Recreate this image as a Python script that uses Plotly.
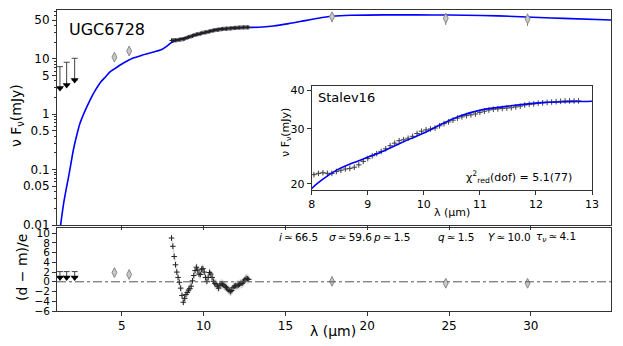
import plotly.graph_objects as go

# ---------------- data ----------------
# SED model (blue curve), wavelength in micron, nuFnu in mJy
model_lam = [1.22, 1.28, 1.45, 1.63, 1.8, 2.04, 2.25, 2.45, 2.75, 3.06, 3.35, 3.67,
             4.0, 4.28, 4.6, 4.9, 5.3, 5.69, 6.2, 6.73, 7.1, 7.5, 7.8, 8.0, 8.2,
             8.46, 8.75, 9.02, 9.26, 9.6, 10.0, 10.3, 10.62, 11.05, 11.55, 12.17,
             12.6, 13.0, 13.6, 14.26, 15.2, 15.91, 17.0, 17.87, 19.0, 21.0, 23.0,
             25.0, 27.0, 29.0, 30.5, 32.0, 34.9]
model_flux = [0.008, 0.011, 0.025, 0.049, 0.09, 0.226, 0.42, 0.69, 1.15, 1.8, 2.6, 3.66,
              4.7, 5.8, 6.7, 7.7, 9.0, 10.3, 11.5, 12.7, 13.6, 15.0, 17.2, 19.3, 20.7,
              22.2, 23.4, 24.4, 25.4, 27.1, 29.1, 31.0, 32.9, 34.6, 35.6, 36.5,
              36.7, 36.8, 37.5, 39.0, 43.0, 47.0, 54.0, 58.5, 61.0, 62.0, 62.0,
              61.5, 60.5, 58.0, 55.5, 53.5, 50.0]

# Stalev16 spectrum
spec_lam = [8.04, 8.12, 8.20, 8.28, 8.36, 8.44, 8.52, 8.60, 8.68, 8.76,
            8.84, 8.92, 9.00, 9.08, 9.16, 9.24, 9.32, 9.40, 9.48, 9.56,
            9.64, 9.72, 9.80, 9.88, 9.96, 10.04, 10.12, 10.20, 10.28, 10.36,
            10.44, 10.52, 10.60, 10.68, 10.76, 10.84, 10.92, 11.00, 11.08, 11.16,
            11.24, 11.32, 11.40, 11.48, 11.56, 11.64, 11.72, 11.80, 11.88, 11.96,
            12.04, 12.12, 12.20, 12.28, 12.36, 12.44, 12.52, 12.60, 12.68, 12.76]
spec_flux = [21.4, 21.6, 21.7, 21.6, 21.6, 21.9, 22.1, 22.3, 22.4, 22.6,
             23.0, 23.6, 24.1, 24.6, 25.0, 25.4, 25.9, 26.5, 27.0, 27.5,
             27.7, 28.0, 28.4, 29.0, 29.5, 29.8, 30.0, 30.2, 30.7, 31.2,
             31.6, 32.0, 32.5, 32.8, 33.1, 33.3, 33.5, 33.9, 34.2, 34.5,
             34.7, 34.8, 34.9, 35.0, 35.1, 35.3, 35.5, 35.8, 36.0, 36.1,
             36.3, 36.4, 36.5, 36.6, 36.7, 36.8, 36.9, 36.9, 36.9, 36.9]
spec_resid = [9.0, 7.3, 5.2, 3.5, 2.0, 0.9, -0.1, -1.3, -2.8, -4.2,
              -3.4, -2.6, -2.2, -1.7, -1.4, -0.9, 0.2, 1.3, 2.3, 3.0,
              2.4, 1.6, 1.5, 2.6, 2.7, 2.0, 0.9, 0.1, 0.9, 1.9,
              1.6, 0.9, 0.1, -0.3, -0.5, -0.9, -1.3, -0.7, -0.4, -0.5,
              -0.7, -1.0, -1.2, -1.5, -1.8, -2.0, -1.8, -1.2, -0.9, -0.8,
              -0.8, -0.7, -0.5, -0.3, -0.3, 0.0, 0.4, 0.7, 0.6, 0.5]

# photometry
phot_lam = [4.55, 5.45, 17.85, 24.8, 29.8]
phot_flux = [10.7, 13.8, 57.5, 53.8, 52.2]
phot_err = [1.6, 2.0, 12.0, 13.0, 13.0]
phot_resid = [1.9, 1.5, 0.1, -0.3, -0.3]

# upper limits
ulim_lam = [1.22, 1.63, 2.12]
ulim_flux = [2.97, 3.37, 4.14]
ulim_top = [7.2, 8.65, 10.2]
ulim_resid = [0.9, 0.9, 0.9]
ulim_resid_top = [2.1, 2.1, 2.1]

# best-fit parameters (thin spaces around the symbol)
param_labels = ["<i>i</i>\u2009≃\u200966.5", "<i>σ</i>\u2009≃\u200959.6",
                "<i>p</i>\u2009≃\u20091.5", "<i>q</i>\u2009≃\u20091.5",
                "<i>Y</i>\u2009≃\u200910.0", "<i>τ<sub>ν</sub></i>\u2009≃\u20094.1"]

FONT = "DejaVu Sans"
BLUE = "#0000ff"
FRAME = "#333333"
PHOT_FILL = "#c8c8c8"
PHOT_EDGE = "#8a8a8a"

W, H = 623, 346
OFF = 8  # the page body margin shifts the figure by 8 px
# plot area in screen pixels
L, R, T, B = 57, 611, 10, 311


def px(x):
    return (x - L) / (R - L)


def py(y):
    return (B - y) / (B - T)


fig = go.Figure()

# ---------------- main panel ----------------
fig.add_trace(go.Scatter(
    x=model_lam, y=model_flux, mode="lines", xaxis="x", yaxis="y",
    line=dict(color=BLUE, width=1.6, shape="spline", smoothing=0.6),
))
fig.add_trace(go.Scatter(
    x=spec_lam, y=spec_flux, mode="markers", xaxis="x", yaxis="y",
    marker=dict(symbol="cross-thin", size=3, line=dict(color="#222", width=1)),
    error_y=dict(type="constant", value=0.4, color="rgba(120,120,120,0.5)",
                 thickness=2, width=0),
))
fig.add_trace(go.Scatter(
    x=phot_lam, y=phot_flux, mode="markers", xaxis="x", yaxis="y",
    marker=dict(symbol="diamond-tall", size=7, color=PHOT_FILL,
                line=dict(color=PHOT_EDGE, width=1)),
    error_y=dict(type="data", array=phot_err, color="#777", thickness=1, width=0),
))
fig.add_trace(go.Scatter(
    x=ulim_lam, y=ulim_flux, mode="markers", xaxis="x", yaxis="y",
    marker=dict(symbol="triangle-down", size=7, color="black"),
    error_y=dict(type="data", symmetric=False,
                 array=[t - v for t, v in zip(ulim_top, ulim_flux)],
                 arrayminus=[0, 0, 0], color="#444", thickness=1, width=3),
))

# ---------------- residual panel ----------------
fig.add_trace(go.Scatter(
    x=spec_lam, y=[r + 1 for r in spec_resid], mode="lines", xaxis="x2", yaxis="y2",
    line=dict(width=0), hoverinfo="skip",
))
fig.add_trace(go.Scatter(
    x=spec_lam, y=[r - 1 for r in spec_resid], mode="lines", xaxis="x2", yaxis="y2",
    line=dict(width=0), fill="tonexty", fillcolor="rgba(150,150,150,0.3)",
    hoverinfo="skip",
))
fig.add_trace(go.Scatter(
    x=spec_lam, y=spec_resid, mode="markers", xaxis="x2", yaxis="y2",
    marker=dict(symbol="cross-thin", size=4, line=dict(color="#222", width=1)),
))
fig.add_trace(go.Scatter(
    x=phot_lam, y=phot_resid, mode="markers", xaxis="x2", yaxis="y2",
    marker=dict(symbol="diamond-tall", size=7, color=PHOT_FILL,
                line=dict(color=PHOT_EDGE, width=1)),
    error_y=dict(type="constant", value=0.9, color="#777", thickness=1, width=0),
))
fig.add_trace(go.Scatter(
    x=ulim_lam, y=ulim_resid, mode="markers", xaxis="x2", yaxis="y2",
    marker=dict(symbol="triangle-down", size=7, color="black"),
    error_y=dict(type="data", symmetric=False,
                 array=[t - v for t, v in zip(ulim_resid_top, ulim_resid)],
                 arrayminus=[0, 0, 0], color="#444", thickness=1, width=3),
))

# ---------------- inset ----------------
fig.add_trace(go.Scatter(
    x=spec_lam, y=spec_flux, mode="markers", xaxis="x3", yaxis="y3",
    marker=dict(symbol="cross-thin", size=4, line=dict(color="#444", width=1)),
    error_y=dict(type="constant", value=0.25, color="rgba(150,150,150,0.45)",
                 thickness=2, width=0),
))
fig.add_trace(go.Scatter(
    x=model_lam, y=model_flux, mode="lines", xaxis="x3", yaxis="y3",
    line=dict(color=BLUE, width=1.6, shape="spline", smoothing=0.6),
))

axis_common = dict(showline=True, linecolor=FRAME, linewidth=1, mirror=True,
                   ticks="outside", ticklen=4, tickcolor=FRAME, showgrid=False,
                   zeroline=False, automargin=False,
                   tickfont=dict(family=FONT, size=12, color="black"))

xt = [5, 10, 15, 20, 25, 30]
main_ticks = [0.01, 0.05, 0.1, 0.5, 1, 5, 10, 50]
minor_main = [v * m for v in (0.01, 0.1, 1, 10) for m in range(2, 10)]

fig.update_layout(
    template="none",
    width=W, height=H, autosize=False,
    margin=dict(l=L - OFF, r=W - R + OFF, t=T - OFF, b=H - B + OFF, pad=0),
    paper_bgcolor="white", plot_bgcolor="white",
    showlegend=False,
    font=dict(family=FONT, color="black"),
    xaxis=dict(axis_common, domain=[0, 1], anchor="y", range=[1.04, 34.9],
               tickvals=xt, showticklabels=False),
    yaxis=dict(axis_common, domain=[py(225), 1], anchor="x", type="log",
               range=[-2, 1.88], tickvals=main_ticks,
               ticktext=["0.01", "0.05", "0.1", "0.5", "1", "5", "10", "50"],
               minor=dict(ticks="outside", ticklen=2, tickcolor=FRAME,
                          tickvals=minor_main)),
    xaxis2=dict(axis_common, domain=[0, 1], anchor="y2", range=[1.04, 34.9],
                tickvals=xt),
    yaxis2=dict(axis_common, domain=[0, py(228.3)], anchor="x2", range=[-6, 11],
                tickvals=[-6, -4, -2, 0, 2, 4, 6, 8, 10],
                tickfont=dict(family=FONT, size=10.5, color="black")),
    xaxis3=dict(axis_common, domain=[px(311.7), px(592)], anchor="y3", range=[8, 13],
                dtick=1, tickfont=dict(family=FONT, size=11, color="black")),
    yaxis3=dict(axis_common, domain=[py(190), py(86)], anchor="x3", type="log",
                range=[1.281, 1.615], tickvals=[20, 30, 40], ticktext=["20", "30", "40"],
                tickfont=dict(family=FONT, size=11, color="black")),
)

# dash-dot zero line in residual panel
fig.add_shape(type="line", xref="x2 domain", yref="y2", x0=0, x1=1, y0=0, y1=0,
              line=dict(color="#555", width=1, dash="dashdot"))

annots = [
    dict(text="UGC6728", x=px(67), y=py(30), xanchor="left", size=16),
    dict(text="Stalev16", x=px(316), y=py(97), xanchor="left", size=13),
    dict(text="χ<sup>2</sup><sub>red</sub>(dof) = 5.1(77)", x=px(574), y=py(177),
         xanchor="right", size=11),
    dict(text="ν F<sub>ν</sub>(mJy)", x=px(17), y=py(116), xanchor="center",
         size=14, angle=-90),
    dict(text="(d − m)/e", x=px(22), y=py(268), xanchor="center", size=14, angle=-90),
    dict(text="λ (µm)", x=px(333), y=py(331), xanchor="center", size=14),
    dict(text="λ (µm)", x=px(452), y=py(212), xanchor="center", size=11),
    dict(text="ν F<sub>ν</sub>(mJy)", x=px(286), y=py(133), xanchor="center",
         size=11, angle=-90),
]
for a in annots:
    fig.add_annotation(text=a["text"], xref="paper", yref="paper", x=a["x"], y=a["y"],
                       xanchor=a["xanchor"], yanchor="middle", showarrow=False,
                       textangle=a.get("angle", 0),
                       font=dict(family=FONT, size=a["size"], color="black"))

param_x = [277, 327, 371, 436, 486, 534]
for label, x in zip(param_labels, param_x):
    fig.add_annotation(text=label, xref="paper", yref="paper", x=px(x), y=py(237),
                       xanchor="left", yanchor="middle", showarrow=False,
                       font=dict(family=FONT, size=10.5, color="black"))

fig.write_html("out.html")
